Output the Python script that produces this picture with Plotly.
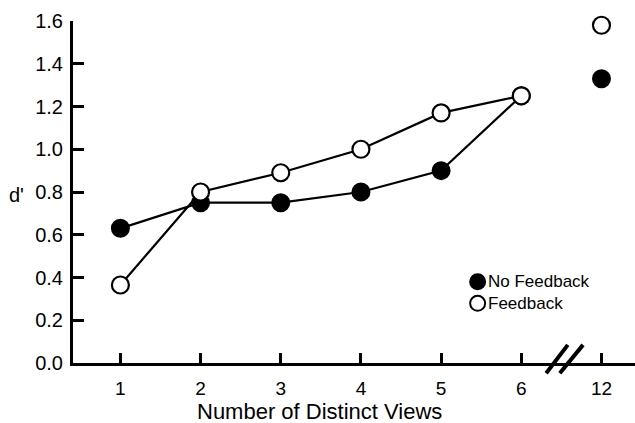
import plotly.graph_objects as go

# Number of distinct views (12 sits after an axis break)
view_labels = ["1", "2", "3", "4", "5", "6", "12"]
view_pos = [1, 2, 3, 4, 5, 6, 7]

no_feedback = [0.63, 0.75, 0.75, 0.80, 0.90, 1.25, 1.33]
feedback = [0.365, 0.80, 0.89, 1.00, 1.17, 1.25, 1.58]

y_ticks = [0.0, 0.2, 0.4, 0.6, 0.8, 1.0, 1.2, 1.4, 1.6]

FONT = "Liberation Sans, Arial, Helvetica, sans-serif"

fig = go.Figure()

line_style = dict(color="black", width=2.2)

# Connecting lines only run over the contiguous part of the axis (1-6)
fig.add_trace(go.Scatter(x=view_pos[:6], y=no_feedback[:6], mode="lines",
                         line=line_style, showlegend=False, hoverinfo="skip"))
fig.add_trace(go.Scatter(x=view_pos[:6], y=feedback[:6], mode="lines",
                         line=line_style, showlegend=False, hoverinfo="skip"))

fig.add_trace(go.Scatter(x=view_pos, y=no_feedback, mode="markers", name="No Feedback",
                         cliponaxis=False, showlegend=False,
                         marker=dict(size=17, color="black",
                                     line=dict(color="black", width=2))))
fig.add_trace(go.Scatter(x=view_pos, y=feedback, mode="markers", name="Feedback",
                         cliponaxis=False, showlegend=False,
                         marker=dict(size=17, color="white",
                                     line=dict(color="black", width=2.2))))

# Axis break marks between 6 and 12
for x0, x1 in [(6.31, 6.58), (6.48, 6.77)]:
    fig.add_shape(type="line", xref="x", yref="paper", x0=x0, x1=x1,
                  y0=-0.03, y1=0.053, line=dict(color="black", width=4))

# Key: symbol + label for each series
key_items = [("No Feedback", "black", 0.2377), ("Feedback", "white", 0.1746)]
for label, fill, ky in key_items:
    fig.add_shape(type="circle", xref="paper", yref="paper",
                  xsizemode="pixel", ysizemode="pixel",
                  xanchor=0.720, yanchor=ky, x0=-7.5, x1=7.5, y0=-7.5, y1=7.5,
                  fillcolor=fill, line=dict(color="black", width=2))
    fig.add_annotation(text=label, xref="paper", yref="paper", x=0.735, y=ky,
                       xanchor="left", yanchor="middle", showarrow=False,
                       font=dict(size=17, color="black", family=FONT))

fig.add_annotation(text="d'", xref="paper", yref="paper", x=-0.101, y=0.49,
                   showarrow=False, font=dict(size=20, color="black", family=FONT),
                   xanchor="center", yanchor="middle")

fig.add_annotation(text="Number of Distinct Views", xref="paper", yref="paper",
                   x=0.438, y=-0.143, showarrow=False,
                   font=dict(size=22, color="black", family=FONT),
                   xanchor="center", yanchor="middle")

fig.update_layout(
    width=635, height=423,
    margin=dict(l=73, r=0, t=21, b=60),
    paper_bgcolor="white", plot_bgcolor="white",
    font=dict(family=FONT, color="black", size=20),
    showlegend=False,
)

fig.update_xaxes(
    range=[0.409, 7.418], tickvals=view_pos, ticktext=view_labels,
    ticks="inside", ticklen=10, tickwidth=2.5, tickcolor="black",
    showline=True, linecolor="black", linewidth=3, showgrid=False, zeroline=False,
    tickfont=dict(size=19), ticklabelstandoff=6,
)
fig.update_yaxes(
    range=[0, 1.6], tickvals=y_ticks, ticktext=[f"{v:.1f}" for v in y_ticks],
    ticks="inside", ticklen=11, tickwidth=3, tickcolor="black",
    showline=True, linecolor="black", linewidth=3, showgrid=False, zeroline=False,
    tickfont=dict(size=20), ticklabelstandoff=3,
)

fig.write_html("out.html")
